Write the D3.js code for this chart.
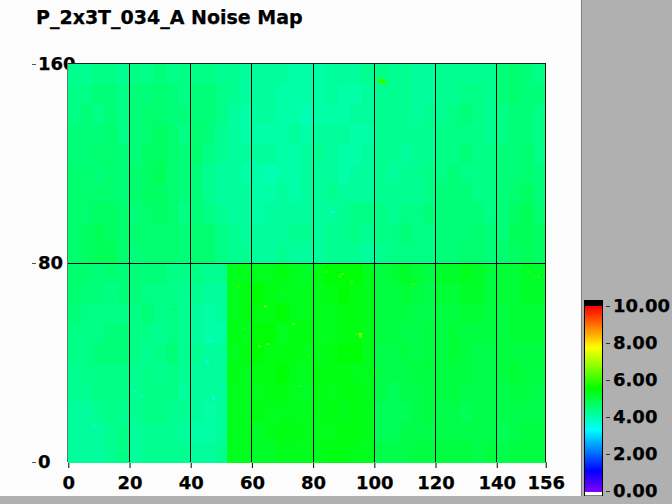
<!DOCTYPE html>
<html><head><meta charset="utf-8">
<script src="https://cdn.jsdelivr.net/npm/d3@7"></script>
<style>
html,body{margin:0;padding:0;background:#b0b0b0;overflow:hidden}
svg{display:block}
text{font-family:"DejaVu Sans",sans-serif;font-weight:bold;fill:#000;stroke:#000;stroke-width:.25px}
</style></head><body>
<svg id="c" width="672" height="504"></svg>
<script>
const title = "P_2x3T_034_A Noise Map";
const xTicks = [0,20,40,60,80,100,120,140,156];
const yTicks = [0,80,160];
const legendTicks = [0,2,4,6,8,10];
const cellW = 4, cellH = 8;
// Estimated noise, rows from y=160 (top) down to y=0; each column spans 4 channels, each row 8.
const noise = [
[4.3,4.3,4.4,4.4,4.3,4.4,4.4,4.5,4.4,4.4,4.4,4.4,4.3,4.3,4.2,4.2,4.2,4.2,4.1,4.1,4.1,4.2,4.2,4.2,4.3,4.4,4.3,4.3,4.2,4.2,4.3,4.3,4.3,4.3,4.3,4.5,4.6,4.5,4.4],
[4.4,4.4,4.5,4.5,4.4,4.5,4.5,4.6,4.5,4.4,4.5,4.5,4.4,4.3,4.2,4.2,4.2,4.1,4.1,4.1,4.1,4.2,4.1,4.1,4.2,4.3,4.3,4.3,4.2,4.2,4.3,4.3,4.4,4.4,4.3,4.5,4.6,4.5,4.5],
[4.4,4.5,4.4,4.5,4.4,4.5,4.6,4.6,4.5,4.5,4.5,4.5,4.4,4.2,4.1,4.2,4.2,4.1,4.1,4.0,4.1,4.1,4.1,4.2,4.2,4.3,4.3,4.3,4.2,4.3,4.3,4.4,4.5,4.4,4.3,4.4,4.5,4.5,4.4],
[4.5,4.5,4.5,4.6,4.4,4.5,4.6,4.7,4.6,4.4,4.6,4.5,4.3,4.2,4.1,4.1,4.1,4.1,4.2,4.1,4.2,4.2,4.2,4.1,4.1,4.3,4.3,4.3,4.3,4.3,4.4,4.4,4.4,4.4,4.3,4.4,4.5,4.5,4.4],
[4.5,4.5,4.6,4.6,4.5,4.5,4.7,4.7,4.6,4.5,4.6,4.4,4.3,4.2,4.2,4.2,4.2,4.1,4.1,4.2,4.3,4.2,4.1,4.1,4.2,4.3,4.3,4.2,4.3,4.3,4.4,4.4,4.5,4.4,4.4,4.5,4.5,4.6,4.4],
[4.6,4.6,4.5,4.6,4.5,4.6,4.7,4.8,4.6,4.5,4.5,4.3,4.2,4.2,4.1,4.1,4.0,4.1,4.1,4.2,4.2,4.2,4.1,4.2,4.2,4.3,4.2,4.3,4.3,4.4,4.4,4.5,4.4,4.4,4.4,4.5,4.5,4.6,4.5],
[4.6,4.6,4.6,4.6,4.5,4.6,4.7,4.7,4.6,4.5,4.5,4.3,4.2,4.2,4.2,4.1,4.1,4.2,4.1,4.2,4.2,4.3,4.2,4.2,4.2,4.3,4.3,4.3,4.3,4.4,4.5,4.5,4.5,4.4,4.4,4.5,4.6,4.7,4.5],
[4.6,4.6,4.7,4.7,4.6,4.5,4.6,4.7,4.6,4.4,4.5,4.4,4.3,4.2,4.2,4.1,4.2,4.2,4.2,4.2,4.2,4.2,4.3,4.4,4.4,4.4,4.3,4.4,4.4,4.5,4.5,4.5,4.5,4.5,4.4,4.5,4.7,4.8,4.6],
[4.6,4.7,4.8,4.7,4.6,4.6,4.6,4.6,4.6,4.5,4.6,4.6,4.4,4.3,4.2,4.2,4.2,4.2,4.3,4.3,4.2,4.3,4.3,4.4,4.3,4.4,4.4,4.5,4.4,4.4,4.5,4.5,4.5,4.6,4.5,4.5,4.8,4.8,4.7],
[4.6,4.7,4.8,4.8,4.6,4.5,4.6,4.6,4.6,4.5,4.6,4.6,4.4,4.3,4.3,4.2,4.2,4.3,4.2,4.2,4.2,4.3,4.3,4.3,4.2,4.3,4.4,4.4,4.4,4.4,4.5,4.5,4.6,4.6,4.5,4.6,4.7,4.8,4.7],
[4.6,4.6,4.5,4.6,4.5,4.5,4.5,4.5,4.4,4.4,4.4,4.3,4.3,5.3,5.3,5.3,5.3,5.4,5.3,5.2,5.4,5.5,5.5,5.5,5.3,5.0,5.1,5.2,5.1,5.0,5.2,5.2,5.3,5.2,5.0,5.1,5.1,5.2,5.2],
[4.6,4.5,4.5,4.4,4.5,4.5,4.4,4.4,4.4,4.3,4.3,4.2,4.2,5.3,5.4,5.5,5.4,5.3,5.3,5.3,5.3,5.4,5.5,5.4,5.3,5.0,5.0,5.1,5.0,4.9,5.1,5.1,5.2,5.2,5.0,5.1,5.1,5.2,5.2],
[4.5,4.4,4.4,4.4,4.4,4.4,4.5,4.4,4.4,4.3,4.2,4.1,4.2,5.3,5.4,5.4,5.4,5.5,5.3,5.3,5.3,5.3,5.4,5.4,5.3,5.0,5.0,5.0,4.9,4.9,5.0,5.0,5.1,5.1,5.0,5.0,5.1,5.1,5.1],
[4.4,4.4,4.4,4.5,4.5,4.4,4.4,4.3,4.4,4.3,4.2,4.1,4.1,5.4,5.3,5.5,5.5,5.3,5.4,5.4,5.3,5.3,5.4,5.4,5.3,5.0,5.0,4.9,4.9,5.0,5.0,5.1,5.0,5.0,5.0,5.0,5.1,5.1,5.1],
[4.4,4.4,4.5,4.5,4.5,4.4,4.3,4.4,4.5,4.3,4.3,4.2,4.2,5.3,5.4,5.5,5.4,5.4,5.4,5.3,5.3,5.4,5.5,5.5,5.3,4.9,4.9,5.0,4.9,5.0,5.0,5.1,5.0,4.9,4.9,5.0,5.0,5.0,5.0],
[4.3,4.4,4.4,4.4,4.4,4.3,4.4,4.3,4.4,4.3,4.2,4.2,4.2,5.4,5.3,5.4,5.4,5.5,5.3,5.3,5.4,5.4,5.4,5.3,5.3,4.9,4.9,4.9,5.0,5.0,5.0,5.0,5.0,4.9,4.9,5.0,5.1,5.0,5.0],
[4.3,4.3,4.4,4.4,4.4,4.3,4.4,4.4,4.4,4.2,4.2,4.2,4.2,5.3,5.3,5.3,5.4,5.4,5.3,5.2,5.4,5.3,5.4,5.4,5.3,4.9,4.8,4.9,4.9,5.0,5.0,5.0,4.9,4.9,4.9,4.9,5.0,5.0,4.9],
[4.2,4.2,4.3,4.4,4.3,4.3,4.4,4.4,4.3,4.3,4.2,4.1,4.2,5.3,5.3,5.4,5.3,5.3,5.3,5.3,5.3,5.4,5.3,5.4,5.3,4.8,4.8,4.8,4.9,5.0,4.9,4.9,4.8,4.9,4.9,4.9,4.9,4.9,4.9],
[4.2,4.2,4.2,4.3,4.4,4.2,4.3,4.3,4.3,4.2,4.1,4.1,4.2,5.3,5.3,5.2,5.3,5.4,5.4,5.3,5.3,5.3,5.4,5.4,5.3,4.8,4.8,4.9,4.9,4.9,4.9,4.9,4.9,4.9,4.9,4.8,4.9,5.0,5.0],
[4.2,4.2,4.2,4.3,4.4,4.2,4.3,4.3,4.3,4.3,4.2,4.2,4.3,5.3,5.3,5.2,5.2,5.3,5.3,5.3,5.3,5.4,5.4,5.3,5.3,4.9,4.9,4.9,5.0,5.0,5.0,5.0,5.0,4.9,5.0,4.9,5.0,5.0,5.0]
];
// Individual bright or pale channels readable in the picture: [x, y, noise]
const hotSpots = [
[101,153,6.0],[102,153,6.0],[102,152,6.0],[103,152,5.9],
[95,51,6.7],[95,50,6.4],[94,51,6.0],[112,71,6.0],[113,71,5.9],[89,75,6.2],[88,74,6.0],
[64,62,6.2],[73,55,6.3],[65,47,6.2],[62,46,6.1],[55,70,5.9],[57,53,5.9],[71,69,5.8],[84,76,5.9],
[92,72,5.9],[78,42,5.9],[150,76,6.0],[153,74,6.0],[136,76,5.8],[75,30,5.9],[100,36,5.9],[60,16,5.8],
[14,63,4.9],[34,61,4.9],[21,28,3.7],[46,48,3.7],[47,25,3.6],[45,40,3.7],[24,26,3.7],[8,14,3.7],[56,147,3.9],[92,118,3.7],[60,120,3.8],[62,112,3.8],[86,100,3.7]
];

const svg = d3.select("#c");
const x = d3.scaleLinear().domain([0,156]).range([68.3,545.7]);
const y = d3.scaleLinear().domain([0,160]).range([462,64]);
const legend = d3.scaleLinear().domain([0,10]).range([491,306]);
const hue = d3.scaleLinear().domain([0,10]).range([270,0]);
const color = v => d3.hsl(hue(v),1,0.5).formatHex();

// panels
svg.append("rect").attr("width",672).attr("height",504).attr("fill","#b0b0b0");
svg.append("rect").attr("width",581).attr("height",496).attr("fill","#fcfcfc");
svg.append("line").attr("x1",581.5).attr("x2",581.5).attr("y1",0).attr("y2",496).attr("stroke","#808080");
svg.append("text").attr("x",36).attr("y",24).attr("font-size",19).text(title);

// axes drawn under the map, as in the picture (the map covers the foot of "160")
const xAxis = svg.append("g").attr("transform","translate(0,462)")
  .call(d3.axisBottom(x).tickValues(xTicks).tickFormat(d3.format("d")).tickSize(6).tickPadding(7));
const yAxis = svg.append("g").attr("transform","translate(36,0)")
  .call(g=>{
    g.selectAll("line").data(yTicks).join("line").attr("x1",-4).attr("x2",0)
      .attr("y1",d=>Math.round(y(d))+.5).attr("y2",d=>Math.round(y(d))+.5).attr("stroke","#555");
    g.selectAll("text").data(yTicks).join("text").attr("x",2).attr("y",d=>y(d)-.5).attr("dy","0.38em")
      .attr("font-size",18).text(d=>d);
  });
xAxis.select(".domain").remove();
xAxis.selectAll("text").attr("font-size",18).attr("font-family",null).attr("dy","0.8em");
xAxis.selectAll("line").attr("stroke","#000");

// heat map
const cells = noise.flatMap((row,r)=>row.map((v,c)=>({c,r,v})));
svg.append("g").attr("shape-rendering","crispEdges").selectAll("rect").data(cells).join("rect")
  .attr("x",d=>x(d.c*cellW)).attr("width",d=>x((d.c+1)*cellW)-x(d.c*cellW)+.5)
  .attr("y",d=>y(160-d.r*cellH)).attr("height",d=>y(160-(d.r+1)*cellH)-y(160-d.r*cellH)+.5)
  .attr("fill",d=>color(d.v));
svg.append("g").attr("shape-rendering","crispEdges").selectAll("rect").data(hotSpots).join("rect")
  .attr("x",d=>x(d[0])).attr("width",x(1)-x(0))
  .attr("y",d=>y(d[1]+1)).attr("height",y(0)-y(1))
  .attr("fill",d=>color(d[2]));

// grid and frame
const grid = svg.append("g").attr("stroke","#000").attr("shape-rendering","crispEdges");
grid.selectAll("line.v").data(xTicks.slice(1,-1)).join("line").attr("class","v")
  .attr("x1",d=>x(d)).attr("x2",d=>x(d)).attr("y1",y(160)).attr("y2",y(0));
grid.selectAll("line.h").data([80]).join("line").attr("class","h")
  .attr("x1",x(0)).attr("x2",x(156)).attr("y1",y(80)).attr("y2",y(80));
svg.append("line").attr("x1",67).attr("x2",546).attr("y1",63.5).attr("y2",63.5).attr("stroke","#222");
svg.append("line").attr("x1",545.5).attr("x2",545.5).attr("y1",63).attr("y2",462).attr("stroke","#111");
svg.append("line").attr("x1",67.5).attr("x2",67.5).attr("y1",63).attr("y2",462).attr("stroke","#5a7a6a");

// colour bar
const steps = d3.range(0,10,10/185);
svg.append("rect").attr("x",584).attr("y",300).attr("width",19).attr("height",196).attr("fill","#000");
svg.append("rect").attr("x",585).attr("y",491.5).attr("width",17).attr("height",4).attr("fill","#fff");
svg.append("g").attr("shape-rendering","crispEdges").selectAll("rect").data(steps).join("rect")
  .attr("x",585).attr("width",17).attr("y",d=>legend(d)-1).attr("height",1.5).attr("fill",d=>color(d));
const lAxis = svg.append("g").attr("transform","translate(610,0)")
  .call(d3.axisRight(legend).tickValues(legendTicks).tickFormat(d3.format(".2f")).tickSize(0).tickPadding(3));
lAxis.select(".domain").remove();
lAxis.selectAll("text").attr("font-size",18).attr("font-family",null);
svg.append("g").selectAll("line").data(legendTicks).join("line")
  .attr("x1",606).attr("x2",610).attr("y1",d=>Math.round(legend(d))+.5).attr("y2",d=>Math.round(legend(d))+.5).attr("stroke","#333");
</script></body></html>
